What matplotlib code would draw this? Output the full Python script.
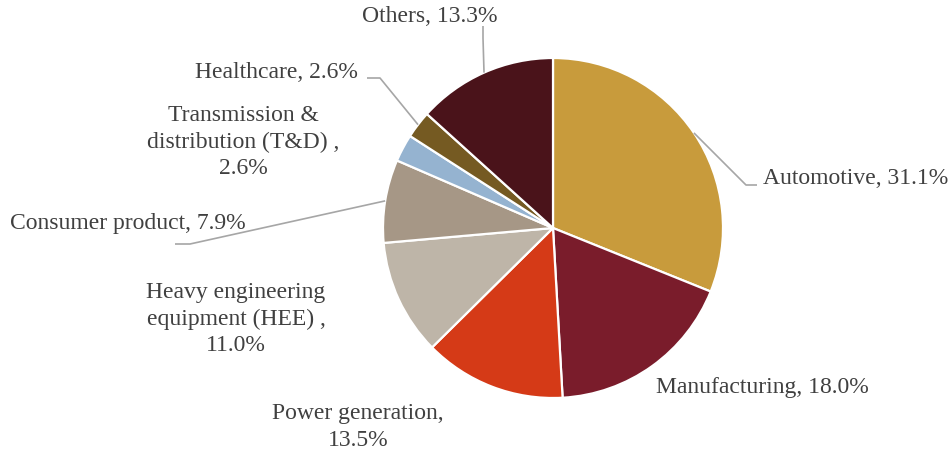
import numpy as np
import matplotlib.pyplot as plt

sectors = ['Automotive', 'Manufacturing', 'Power generation',
           'Heavy engineering\nequipment (HEE) ,', 'Consumer product',
           'Transmission &\ndistribution (T&D) ,', 'Healthcare', 'Others']
shares = [31.1, 18.0, 13.5, 11.0, 7.9, 2.6, 2.6, 13.3]
colors = ['#C89B3C', '#7A1C2B', '#D53A17', '#BEB5A8', '#A69786',
          '#95B3D0', '#755A22', '#4A131A']

# label text: separator after the name is either ", " or a line break
seps = [', ', ', ', ',\n', '\n', ', ', '\n', ', ', ', ']

plt.rcParams['font.family'] = ['Liberation Serif', 'DejaVu Serif']

fig = plt.figure(figsize=(9.5, 4.53), dpi=100)
ax = fig.add_axes([0, 0, 1, 1])

cx, cy, r = 553, 225, 170
wedges, _ = ax.pie(shares, colors=colors, startangle=90, counterclock=False,
                   center=(cx, cy), radius=r, frame=True,
                   wedgeprops=dict(edgecolor='white', linewidth=1.6))
ax.set_xlim(0, 950)
ax.set_ylim(0, 453)
ax.set_aspect('equal')
ax.axis('off')

# label anchor (x, y), horizontal alignment, elbow point of leader (None = no leader)
label_pos = [
    ((763, 275), 'left', (746, 268)),
    ((656, 66), 'left', None),
    ((358, 26), 'center', None),
    ((236, 134), 'center', None),
    ((10, 230), 'left', (190, 209)),
    ((243, 311), 'center', None),
    ((358, 380), 'right', (380, 375)),
    ((430, 436), 'center', (483, 415)),
]

text_col = '#404040'
line_col = '#A6A6A6'
for w, name, val, sep, (xy, ha, elbow) in zip(wedges, sectors, shares, seps, label_pos):
    ax.text(xy[0], xy[1], f'{name}{sep}{val:.1f}%', ha=ha, va='center',
            fontsize=17, color=text_col, linespacing=1.33,
            multialignment='center')
    if elbow is None:
        continue
    mid = np.deg2rad((w.theta1 + w.theta2) / 2)
    px, py = cx + r * np.cos(mid), cy + r * np.sin(mid)
    if ha == 'left':
        tail = (elbow[0] - 15, elbow[1]) if xy[0] < cx else (elbow[0] + 11, elbow[1])
    elif ha == 'right':
        tail = (elbow[0] - 13, elbow[1])
    else:
        tail = (elbow[0], elbow[1] + 12)
    ax.plot([px, elbow[0], tail[0]], [py, elbow[1], tail[1]],
            color=line_col, lw=1.2, solid_capstyle='butt')

fig.savefig('out.png', dpi=100)
